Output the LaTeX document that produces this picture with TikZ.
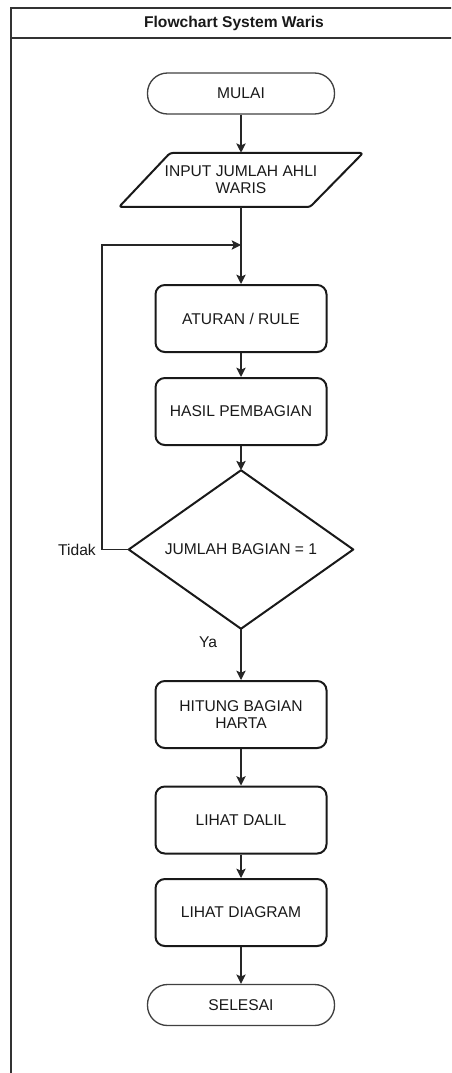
\documentclass[tikz,border=0pt]{standalone}
\usepackage{fontspec}
\setmainfont{Liberation Sans}
\usetikzlibrary{arrows.meta}
\begin{document}
\begin{tikzpicture}[x=0.75pt,y=-0.75pt,
  every node/.style={font=\fontsize{11.7}{13}\selectfont, text=black!90},
  frame/.style={draw=black!80, line width=1.5pt},
  term/.style={draw=black!75, line width=1pt, rounded corners=15pt, minimum width=140.25pt, minimum height=30.75pt, inner sep=0pt},
  proc/.style={draw=black!90, line width=1.5pt, rounded corners=7pt, minimum width=128.25pt, minimum height=50.25pt, align=center, inner sep=0pt},
  shapeline/.style={draw=black!90, line width=1.5pt, line join=round},
  conn/.style={draw=black!85, line width=1.1pt, -{Stealth[length=7pt,width=7pt,inset=1.5pt]}},
  lbl/.style={inner sep=0pt},
]
\useasboundingbox (0,0) rectangle (451,1073);
\begin{scope}
\clip (0,0) rectangle (451,1073);
\draw[frame] (11,8) rectangle (470,1090);
\draw[frame] (11,38) -- (470,38);
\end{scope}
\node[font=\bfseries\fontsize{11.7}{13}\selectfont] (title) at (234,23) {Flowchart System Waris};

\node[term] (start) at (241,93.5) {MULAI};
\node[minimum width=145pt, minimum height=40.5pt, align=center, inner sep=0pt] (input) at (241,180) {INPUT JUMLAH AHLI\\WARIS};
\draw[shapeline, rounded corners=2pt] (170,153) -- (363,153) -- (310,207) -- (119,207) -- cycle;
\node[proc] (rule) at (241,318.5) {ATURAN / RULE};
\node[proc] (hasil) at (241,411.5) {HASIL PEMBAGIAN};
\node[minimum width=168pt, minimum height=118.5pt, inner sep=0pt] (dec) at (241,549.5) {JUMLAH BAGIAN = 1};
\draw[shapeline] (dec.north) -- (dec.east) -- (dec.south) -- (dec.west) -- cycle;
\node[proc] (hitung) at (241,714.5) {HITUNG BAGIAN\\HARTA};
\node[proc] (dalil) at (241,820) {LIHAT DALIL};
\node[proc] (diagram) at (241,912.5) {LIHAT DIAGRAM};
\node[term] (end) at (241,1005) {SELESAI};

\coordinate (loopc) at (102,245);
\coordinate (join) at (241,245);

\draw[conn] (start.south) -- (input.north);
\draw[conn] (input.south) -- (rule.north);
\draw[conn] (rule.south) -- (hasil.north);
\draw[conn] (hasil.south) -- (dec.north);
\draw[conn] (dec.south) -- (hitung.north);
\draw[conn] (hitung.south) -- (dalil.north);
\draw[conn] (dalil.south) -- (diagram.north);
\draw[conn] (diagram.south) -- (end.north);
\draw[conn] (dec.west) -| (loopc) -- (join);

\node[lbl, anchor=east] (tidak) at (96,550) {Tidak};
\node[lbl] (ya) at (208,642) {Ya};
\end{tikzpicture}
\end{document}
